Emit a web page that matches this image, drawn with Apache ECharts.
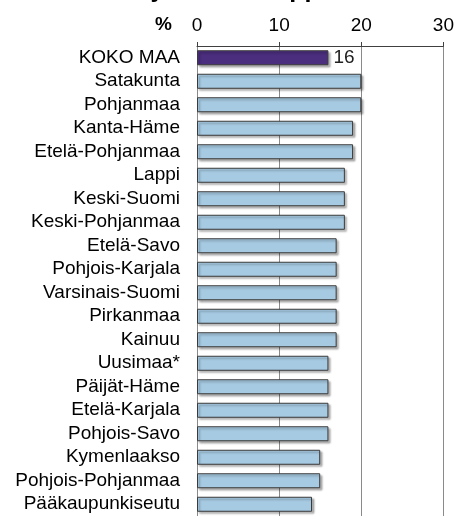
<!DOCTYPE html>
<html>
<head>
<meta charset="utf-8">
<style>
  html, body { margin: 0; padding: 0; background: #ffffff; }
  #chart { width: 457px; height: 516px; }
</style>
<script src="https://cdn.jsdelivr.net/npm/echarts@6/dist/echarts.min.js"></script>
</head>
<body>
<div id="chart"></div>
<script>
// Regions, whole country first
const regions = [
  'KOKO MAA', 'Satakunta', 'Pohjanmaa', 'Kanta-Häme', 'Etelä-Pohjanmaa',
  'Lappi', 'Keski-Suomi', 'Keski-Pohjanmaa', 'Etelä-Savo', 'Pohjois-Karjala',
  'Varsinais-Suomi', 'Pirkanmaa', 'Kainuu', 'Uusimaa*', 'Päijät-Häme',
  'Etelä-Karjala', 'Pohjois-Savo', 'Kymenlaakso', 'Pohjois-Pohjanmaa', 'Pääkaupunkiseutu'
];
// Share, %
const shares = [16, 20, 20, 19, 19, 18, 18, 18, 17, 17, 17, 17, 17, 16, 16, 16, 16, 15, 15, 14];
// Scale ticks
const axisMin = 0, axisMax = 30, axisStep = 10;
const titleText = 'Ahdistuneet yläkoulun oppilaat';
const unitText = '%';

const FONT = '"Liberation Sans", Arial, sans-serif';
const COUNTRY = '#4b2e7e';
const REGION = '#a6cae2';

const chart = echarts.init(document.getElementById('chart'), null, { renderer: 'canvas' });

chart.setOption({
  animation: false,
  backgroundColor: '#ffffff',
  textStyle: { fontFamily: FONT },
  grid: { left: 197, right: 12, top: 46, height: 474, containLabel: false },
  graphic: [
    {
      type: 'text', left: -1, top: -22,
      style: { text: titleText, font: 'bold 25px ' + FONT, fill: '#000' }
    },
    {
      type: 'text', x: 172, y: 25,
      style: { text: unitText, font: 'bold 19px ' + FONT, fill: '#000', align: 'right', verticalAlign: 'middle' }
    }
  ],
  xAxis: {
    type: 'value', position: 'top',
    min: axisMin, max: axisMax, interval: axisStep,
    axisLine: { show: true, lineStyle: { color: '#404040', width: 1 } },
    axisTick: { show: true, length: 4, lineStyle: { color: '#404040' } },
    axisLabel: { fontSize: 19, color: '#000', margin: 11, fontFamily: FONT },
    splitLine: { show: true, lineStyle: { color: '#8a8a8a', width: 1 } }
  },
  yAxis: {
    type: 'category', inverse: true, data: regions,
    axisLine: { show: false }, axisTick: { show: false },
    axisLabel: { fontSize: 19, color: '#000', margin: 17, interval: 0, fontFamily: FONT }
  },
  series: [{
    type: 'bar',
    data: shares.map((v, i) => ({
      value: v,
      itemStyle: { color: i === 0 ? COUNTRY : REGION },
      label: { show: i === 0 }
    })),
    barWidth: 15,
    itemStyle: {
      borderColor: '#3a3a3a', borderWidth: 1,
      shadowColor: 'rgba(0,0,0,0.3)', shadowBlur: 2, shadowOffsetX: 2, shadowOffsetY: 2
    },
    label: {
      position: 'right', distance: 5, fontSize: 19, color: '#222', fontFamily: FONT,
      formatter: '{c}'
    }
  }]
});
</script>
</body>
</html>
